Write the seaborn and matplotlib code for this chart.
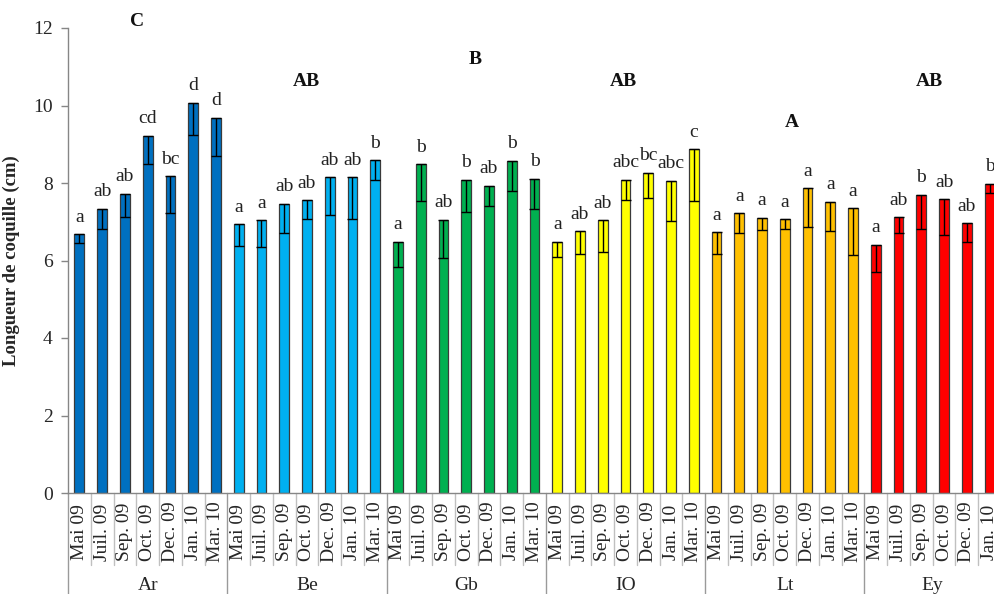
import numpy as np
import pandas as pd
import matplotlib
matplotlib.use("Agg")
import matplotlib.pyplot as plt
import seaborn as sns
from matplotlib.transforms import blended_transform_factory

sites = ["Ar", "Be", "Gb", "IO", "Lt", "Ey"]
months = ["Mai 09", "Juil. 09", "Sep. 09", "Oct. 09", "Dec. 09", "Jan. 10", "Mar. 10"]
site_colors = ["#0070C0", "#00B0F0", "#00B050", "#FFFF00", "#FFC000", "#FF0000"]

ar_mean = [6.68, 7.33, 7.72, 9.22, 8.18, 10.07, 9.69]
ar_low = [6.44, 6.82, 7.12, 8.48, 7.22, 9.25, 8.70]
be_mean = [6.93, 7.04, 7.47, 7.56, 8.15, 8.15, 8.59]
be_low = [6.38, 6.34, 6.70, 7.07, 7.18, 7.07, 8.09]
gb_mean = [6.49, 8.48, 7.05, 8.09, 7.93, 8.57, 8.11]
gb_low = [5.84, 7.53, 6.07, 7.26, 7.41, 7.80, 7.32]
io_mean = [6.49, 6.75, 7.04, 8.09, 8.27, 8.06, 8.87]
io_low = [6.10, 6.18, 6.23, 7.57, 7.62, 7.03, 7.53]
lt_mean = [6.73, 7.22, 7.10, 7.07, 7.86, 7.52, 7.35]
lt_low = [6.18, 6.70, 6.78, 6.81, 6.86, 6.75, 6.14]
ey_mean = [6.41, 7.11, 7.70, 7.58, 6.96, 7.98]
ey_low = [5.71, 6.70, 6.82, 6.65, 6.47, 7.73]

ar_letters = ["a", "ab", "ab", "cd", "bc", "d", "d"]
be_letters = ["a", "a", "ab", "ab", "ab", "ab", "b"]
gb_letters = ["a", "b", "ab", "b", "ab", "b", "b"]
io_letters = ["a", "ab", "ab", "abc", "bc", "abc", "c"]
lt_letters = ["a", "a", "a", "a", "a", "a", "a"]
ey_letters = ["a", "ab", "b", "ab", "ab", "b"]

group_letters = ["C", "AB", "B", "AB", "A", "AB"]
# annotation positions (x in category units, y in data units)
group_letter_x = [2.55, 9.97, 17.4, 23.9, 31.3, 37.35]
group_letter_y = [12.18, 10.61, 11.2, 10.61, 9.57, 10.61]

means = [ar_mean, be_mean, gb_mean, io_mean, lt_mean, ey_mean]
lows = [ar_low, be_low, gb_low, io_low, lt_low, ey_low]
letters = [ar_letters, be_letters, gb_letters, io_letters, lt_letters, ey_letters]

rows = []
for s, m, lo, le in zip(sites, means, lows, letters):
    for i, (v, l, t) in enumerate(zip(m, lo, le)):
        rows.append({"site": s, "month": months[i], "key": f"{s}|{months[i]}",
                     "value": v, "low": l, "letter": t})
df = pd.DataFrame(rows)

sns.set_theme(style="white")
plt.rcParams["font.family"] = ["Liberation Serif", "DejaVu Serif"]

fig = plt.figure(figsize=(9.95, 5.94), dpi=100)
n = len(df)
ax = fig.add_axes([68 / 995, (594 - 493) / 594, 933 / 995, 465 / 594])

sns.barplot(data=df, x="key", y="value", hue="site", palette=dict(zip(sites, site_colors)),
            dodge=False, width=0.43, legend=False, edgecolor="#3a3a3a", linewidth=0.9,
            errorbar=None, saturation=1, ax=ax, order=list(df["key"]))

xpos = np.arange(n)
ax.errorbar(xpos, df["value"], yerr=[df["value"] - df["low"], np.zeros(n)],
            fmt="none", ecolor="black", elinewidth=1.0, capsize=3.4, capthick=1.0, zorder=5)

for x, v, t in zip(xpos, df["value"], df["letter"]):
    ax.text(x, v + 0.22, t, ha="center", va="bottom", fontsize=14, color="#222222")

for x, y, t in zip(group_letter_x, group_letter_y, group_letters):
    ax.text(x, y, t, ha="center", va="center", fontsize=14, fontweight="bold",
            color="#111111", clip_on=False)

ax.set_ylim(0, 12)
ax.set_xlim(-0.5, n - 0.5)
ax.set_yticks(np.arange(0, 13, 2))
ax.set_yticklabels([str(v) for v in range(0, 13, 2)], fontsize=14)
ax.tick_params(axis="y", direction="out", length=5, width=1, color="#868686", pad=6, left=True)
ax.set_xticks(xpos)
ax.set_xticklabels(df["month"], rotation=90, fontsize=14, va="center")
ax.tick_params(axis="x", length=0, pad=28)
ax.set_xlabel("")
ax.set_ylabel("Longueur de coquille (cm)", fontsize=13.5, fontweight="bold", labelpad=9)

for sp in ["top", "right"]:
    ax.spines[sp].set_visible(False)
for sp in ["left", "bottom"]:
    ax.spines[sp].set_color("#868686")
    ax.spines[sp].set_linewidth(1.0)

trans = blended_transform_factory(ax.transData, ax.transAxes)
# category separators
bottom_cat = -(565 - 493) / 465
bottom_grp = -(600 - 493) / 465
starts = [0]
for m in means:
    starts.append(starts[-1] + len(m))
grp_edges = set(s - 0.5 for s in starts)
for b in np.arange(-0.5, n + 0.5, 1.0):
    if b in grp_edges:
        ax.plot([b, b], [0, bottom_grp], transform=trans, color="#9A9A9A", lw=1.0, clip_on=False)
    else:
        ax.plot([b, b], [0, bottom_cat], transform=trans, color="#C0C0C0", lw=1.0, clip_on=False)

for s, a, b in zip(sites, starts[:-1], starts[1:]):
    ax.text((a + b - 1) / 2, -(586 - 493) / 465, s, transform=trans, ha="center", va="center",
            fontsize=14)

fig.savefig("out.png", dpi=100)
